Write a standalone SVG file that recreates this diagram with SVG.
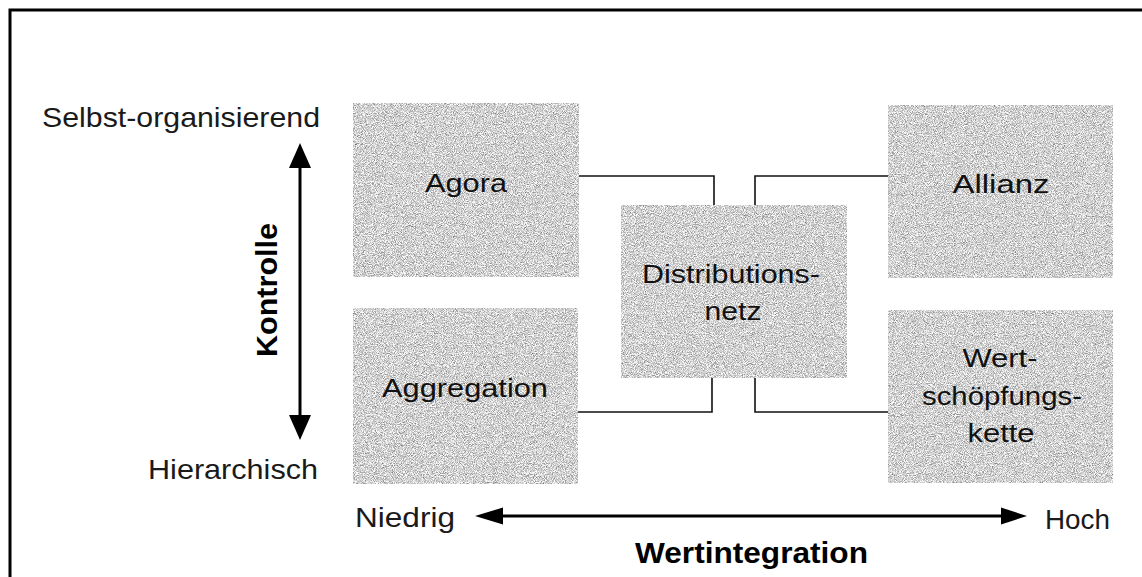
<svg xmlns="http://www.w3.org/2000/svg" width="1142" height="577" viewBox="0 0 1142 577">
  <style>
    .lbl { font-family: "Liberation Sans", Arial, sans-serif; font-size: 28px; fill: #1a1a1a; }
    .box-lbl { font-family: "Liberation Sans", Arial, sans-serif; font-size: 26px; fill: #111; text-anchor: middle; }
    .axis-title { font-family: "Liberation Sans", Arial, sans-serif; font-size: 30px; font-weight: bold; fill: #000; }
    .box { fill: #cccccc; filter: url(#grain); }
    .conn { fill: none; stroke: #111; stroke-width: 1.6; }
    .axis { stroke: #000; stroke-width: 3; fill: none; }
  </style>
  <defs>
    <!-- grainy grey fill for the boxes -->
    <filter id="grain" x="0" y="0" width="100%" height="100%" color-interpolation-filters="sRGB">
      <feTurbulence type="fractalNoise" baseFrequency="1.1" numOctaves="2" seed="7" result="noise"/>
      <feColorMatrix in="noise" type="matrix" values="1.0 0 0 0 0.32  1.0 0 0 0 0.32  1.0 0 0 0 0.32  0 0 0 0 1" result="grey"/>
      <feComposite in="grey" in2="SourceGraphic" operator="in"/>
    </filter>
  </defs>

  <rect width="1142" height="577" fill="#ffffff"/>
  <!-- frame -->
  <path d="M10,577 V10 H1142" fill="none" stroke="#000" stroke-width="3"/>

  <!-- vertical axis: Kontrolle -->
  <g id="axis-kontrolle">
    <path class="axis" d="M300,168 V415"/>
    <path d="M300,143 L289,168 L311,168 Z" fill="#000"/>
    <path d="M300,440 L289,415 L311,415 Z" fill="#000"/>
    <text class="lbl" x="42" y="127" textLength="278" lengthAdjust="spacingAndGlyphs">Selbst-organisierend</text>
    <text class="lbl" x="148" y="479" textLength="170" lengthAdjust="spacingAndGlyphs">Hierarchisch</text>
    <text class="axis-title" transform="translate(277,290) rotate(-90)" text-anchor="middle" textLength="134" lengthAdjust="spacingAndGlyphs">Kontrolle</text>
  </g>

  <!-- horizontal axis: Wertintegration -->
  <g id="axis-wertintegration">
    <path class="axis" d="M502,516 H1002"/>
    <path d="M475,516 L503,507.5 L503,524.5 Z" fill="#000"/>
    <path d="M1027,516 L1001,507.5 L1001,524.5 Z" fill="#000"/>
    <text class="lbl" x="355" y="527" textLength="100" lengthAdjust="spacingAndGlyphs">Niedrig</text>
    <text class="lbl" x="1045" y="529" textLength="65" lengthAdjust="spacingAndGlyphs">Hoch</text>
    <text class="axis-title" x="635" y="563" textLength="233" lengthAdjust="spacingAndGlyphs">Wertintegration</text>
  </g>

  <!-- connectors -->
  <g id="connectors">
    <path class="conn" d="M579,176 H714 V205"/>
    <path class="conn" d="M755,205 V176 H888"/>
    <path class="conn" d="M578,412 H712 V378"/>
    <path class="conn" d="M755,378 V412 H888"/>
  </g>

  <g id="agora">
    <rect class="box" x="353" y="103" width="226" height="174"/>
    <text class="box-lbl" x="466" y="192" textLength="82" lengthAdjust="spacingAndGlyphs">Agora</text>
  </g>

  <g id="aggregation">
    <rect class="box" x="353" y="308" width="225" height="176"/>
    <text class="box-lbl" x="465" y="397" textLength="166" lengthAdjust="spacingAndGlyphs">Aggregation</text>
  </g>

  <g id="distributionsnetz">
    <rect class="box" x="621" y="205" width="226" height="173"/>
    <text class="box-lbl" x="731" y="283" textLength="178" lengthAdjust="spacingAndGlyphs">Distributions-</text>
    <text class="box-lbl" x="733" y="320" textLength="57" lengthAdjust="spacingAndGlyphs">netz</text>
  </g>

  <g id="allianz">
    <rect class="box" x="888" y="105" width="225" height="173"/>
    <text class="box-lbl" x="1001" y="193" textLength="97" lengthAdjust="spacingAndGlyphs">Allianz</text>
  </g>

  <g id="wertschoepfungskette">
    <rect class="box" x="888" y="310" width="225" height="173"/>
    <text class="box-lbl" x="1000" y="367" textLength="75" lengthAdjust="spacingAndGlyphs">Wert-</text>
    <text class="box-lbl" x="1002" y="405" textLength="160" lengthAdjust="spacingAndGlyphs">schöpfungs-</text>
    <text class="box-lbl" x="1001" y="442" textLength="67" lengthAdjust="spacingAndGlyphs">kette</text>
  </g>
</svg>
